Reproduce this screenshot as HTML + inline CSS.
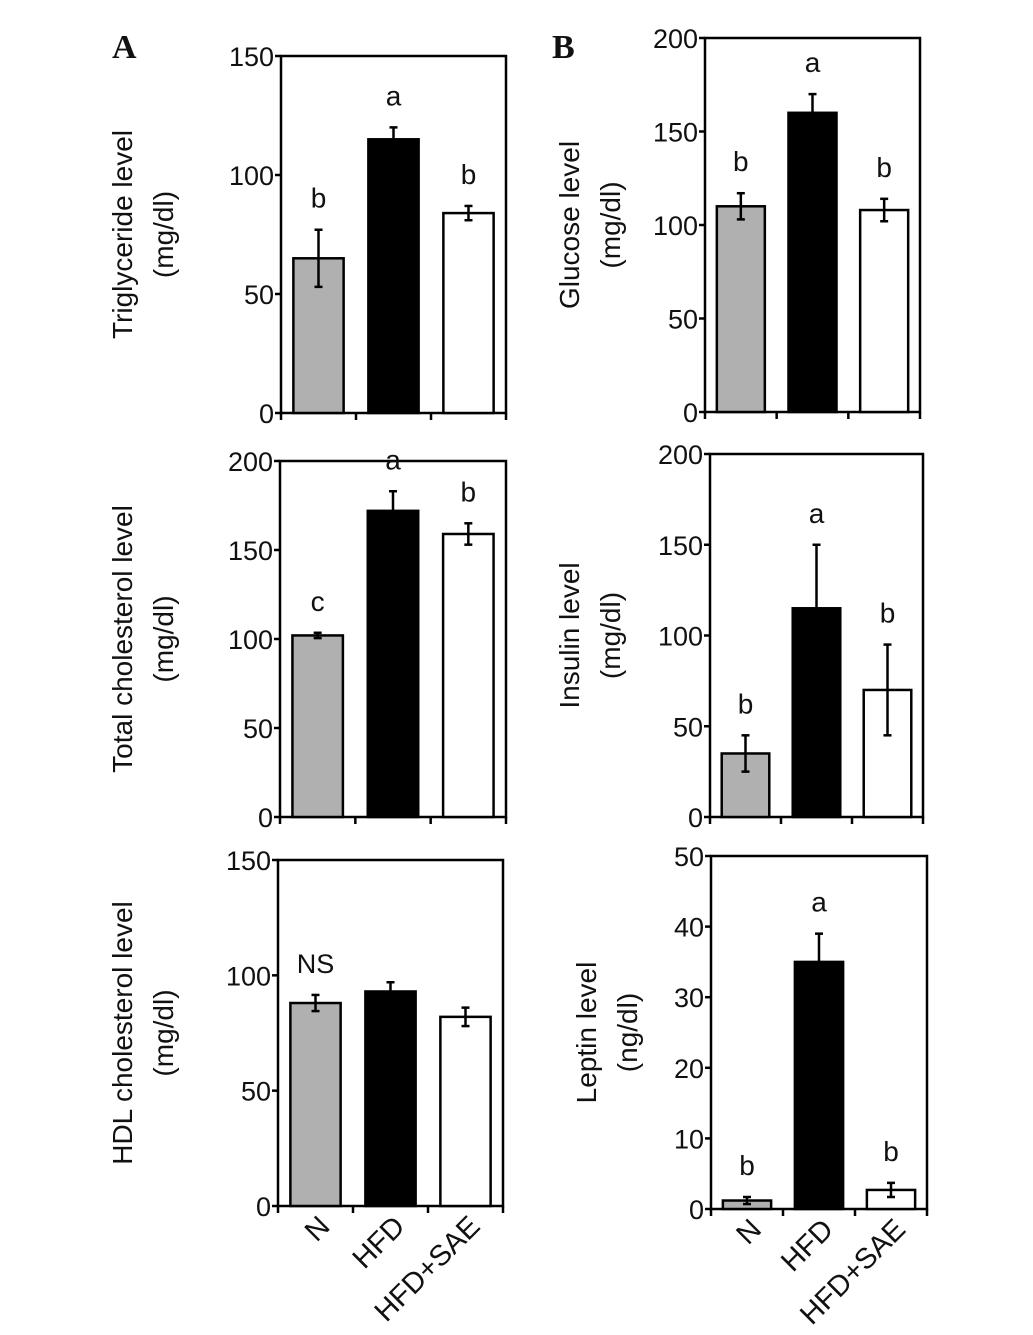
<!DOCTYPE html>
<html><head><meta charset="utf-8">
<style>
html,body{margin:0;padding:0;background:#fff;}
svg{display:block;}
text{font-family:"Liberation Sans",sans-serif;fill:#111;}
</style></head>
<body>
<svg id="fig" width="1033" height="1335" viewBox="0 0 1033 1335" xmlns="http://www.w3.org/2000/svg">
<text x="112" y="58" style="font-family:'Liberation Serif',serif;font-weight:bold;font-size:34px">A</text>
<text x="552" y="58" style="font-family:'Liberation Serif',serif;font-weight:bold;font-size:34px">B</text>
</svg>
<script>
const categories = ["N","HFD","HFD+SAE"];
const trigValues = [65,115,84];
const trigErrors = [12,5,3];
const trigLetters = ["b","a","b"];
const cholValues = [102,172,159];
const cholErrors = [1.5,11,6];
const cholLetters = ["c","a","b"];
const hdlValues = [88,93,82];
const hdlErrors = [3.5,4,4];
const gluValues = [110,160,108];
const gluErrors = [7,10,6];
const gluLetters = ["b","a","b"];
const insValues = [35,115,70];
const insErrors = [10,35,25];
const insLetters = ["b","a","b"];
const lepValues = [1.2,35,2.7];
const lepErrors = [0.5,4,1];
const lepLetters = ["b","a","b"];
const ticks150 = [0,50,100,150];
const ticks200 = [0,50,100,150,200];
const ticks50 = [0,10,20,30,40,50];

const NS = "http://www.w3.org/2000/svg";
const svg = document.getElementById('fig');
const fills = ["#b0b0b0","#000","#fff"];
function mk(tag, attrs, parent){
  const e = document.createElementNS(NS, tag);
  for (const k in attrs) e.setAttribute(k, attrs[k]);
  (parent||svg).appendChild(e);
  return e;
}
function panel(p){
  const g = mk('g', {});
  
  
  const ymax = p.ticks[p.ticks.length-1];
  const y = v => p.bottom - (v/ymax)*(p.bottom-p.top);
  const slot = (p.right-p.left)/3;
  const bx = i => p.left + slot*i + slot/2;
  const fr = mk('rect', {x:p.left,y:p.top,width:p.right-p.left,height:p.bottom-p.top,fill:'none',stroke:'#000','stroke-width':2.5}, g);
  
  
  p.ticks.forEach(t=>{
    mk('line',{x1:p.left-6,x2:p.left,y1:y(t),y2:y(t),stroke:'#000','stroke-width':2.5},g);
    const tx = mk('text',{x:p.left-7,y:y(t)+10,'text-anchor':'end','font-size':27},g);
    tx.textContent = t;
    
    
  });
  for (let i=0;i<=3;i++) mk('line',{x1:p.left+slot*i,x2:p.left+slot*i,y1:p.bottom,y2:p.bottom+7,stroke:'#000','stroke-width':2.5},g);
  p.values.forEach((v,i)=>{
    const w = slot*0.67;
    const r = mk('rect',{x:bx(i)-w/2,y:y(v),width:w,height:p.bottom-y(v),fill:fills[i],stroke:'#000','stroke-width':2.5},g);
    
    
    const e = p.errors[i];
    mk('line',{x1:bx(i),x2:bx(i),y1:y(v+e),y2:y(v-e),stroke:'#000','stroke-width':2.5},g);
    mk('line',{x1:bx(i)-4,x2:bx(i)+4,y1:y(v+e),y2:y(v+e),stroke:'#000','stroke-width':2.5},g);
    mk('line',{x1:bx(i)-4,x2:bx(i)+4,y1:y(v-e),y2:y(v-e),stroke:'#000','stroke-width':2.5},g);
    if (p.letters){
      const lt = mk('text',{x:bx(i),y:y(v+e)-22,'text-anchor':'middle','font-size':28},g);
      lt.textContent = p.letters[i];
      
      
    }
  });
  if (p.ns){
    const t = mk('text',{x:bx(0),y:y(p.values[0]+p.errors[0])-22,'text-anchor':'middle','font-size':27},g);
    t.textContent = 'NS';
    
    
  }
  const cy = (p.top+p.bottom)/2;
  [p.t1,p.t2].forEach((s,k)=>{
    const cx = p.tx + k*41;
    const t = mk('text',{x:cx,y:cy,'text-anchor':'middle','font-size':28,transform:`rotate(-90 ${cx} ${cy})`},g);
    t.textContent = s;
    
    
  });
  if (p.xlabels){
    categories.forEach((c,i)=>{
      const x0 = bx(i)+16, y0 = p.bottom+22;
      const t = mk('text',{x:x0,y:y0,'text-anchor':'end','font-size':29,transform:`rotate(-45 ${x0} ${y0})`},g);
      t.textContent = c;
      
      
    });
  }
}
panel({name:'triglyceride-panel',left:281,right:506,top:56,bottom:413,ticks:ticks150,values:trigValues,errors:trigErrors,letters:trigLetters,t1:'Triglyceride level',t2:'(mg/dl)',tx:132});
panel({name:'total-cholesterol-panel',left:280,right:506,top:461,bottom:817,ticks:ticks200,values:cholValues,errors:cholErrors,letters:cholLetters,t1:'Total cholesterol level',t2:'(mg/dl)',tx:132});
panel({name:'hdl-cholesterol-panel',left:278,right:503,top:860,bottom:1206,ticks:ticks150,values:hdlValues,errors:hdlErrors,ns:true,t1:'HDL cholesterol level',t2:'(mg/dl)',tx:132,xlabels:true});
panel({name:'glucose-panel',left:705,right:920,top:38,bottom:412,ticks:ticks200,values:gluValues,errors:gluErrors,letters:gluLetters,t1:'Glucose level',t2:'(mg/dl)',tx:579});
panel({name:'insulin-panel',left:710,right:923,top:454,bottom:817,ticks:ticks200,values:insValues,errors:insErrors,letters:insLetters,t1:'Insulin level',t2:'(mg/dl)',tx:579});
panel({name:'leptin-panel',left:711,right:927,top:856,bottom:1209,ticks:ticks50,values:lepValues,errors:lepErrors,letters:lepLetters,t1:'Leptin level',t2:'(ng/dl)',tx:596,xlabels:true});
</script>
</body></html>
